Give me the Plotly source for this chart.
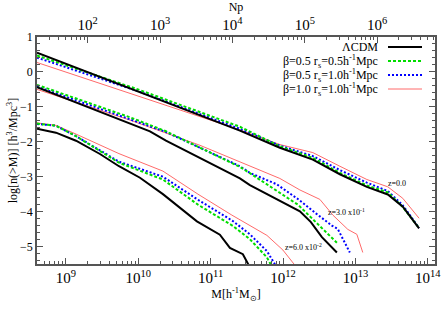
import plotly.graph_objects as go

# ---- data: log10(M) and log10 n(>M) ----
# z = 0.0 group
logM_z0 = [8.60, 9.995, 11.404, 11.956, 12.412, 12.785, 13.158, 13.448, 13.655, 13.88]
z0_lcdm = [0.55, -0.56, -1.68, -2.17, -2.51, -2.93, -3.29, -3.51, -3.86, -4.48]
z0_b05_r05 = [0.47, -0.50, -1.57, -2.13, -2.46, -2.89, -3.25, -3.45, -3.87, -4.47]
z0_b05_r10 = [0.41, -0.55, -1.63, -2.11, -2.41, -2.81, -3.17, -3.41, -3.82, -4.47]
z0_b10_r10 = [0.27, -0.70, -1.66, -2.08, -2.31, -2.70, -3.08, -3.29, -3.62, -4.19]

# z = 0.3 group
logM_z03_lcdm = [8.60, 10.161, 10.382, 11.155, 11.404, 11.542, 11.998, 12.233, 12.385, 12.537, 12.744]
z03_lcdm = [-0.44, -1.70, -1.97, -2.80, -3.05, -3.24, -3.75, -3.99, -4.30, -4.73, -5.17]
logM_z03_b05_r05 = [8.60, 9.885, 10.382, 11.404, 11.542, 11.777, 11.956, 12.205, 12.412, 12.606, 12.744]
z03_b05_r05 = [-0.37, -1.30, -1.70, -2.72, -2.90, -3.22, -3.46, -3.80, -4.22, -4.60, -4.89]
logM_z03_b05_r10 = [8.60, 10.382, 11.404, 11.542, 11.915, 12.205, 12.454, 12.675, 12.757, 12.826, 12.923]
z03_b05_r10 = [-0.42, -1.72, -2.70, -2.89, -3.22, -3.64, -4.05, -4.40, -4.50, -4.77, -5.17]
logM_z03_b10_r10 = [8.60, 9.885, 10.851, 11.542, 11.956, 12.233, 12.509, 12.689, 12.896, 13.020, 13.102]
z03_b10_r10 = [-0.50, -1.38, -2.10, -2.68, -3.05, -3.38, -3.65, -4.10, -4.51, -4.65, -5.17]

# z = 0.06 group
logM_z006_lcdm = [8.60, 8.862, 9.139, 9.470, 9.733, 10.023, 10.340, 10.810, 11.127, 11.266, 11.445, 11.53]
z006_lcdm = [-1.63, -1.74, -1.97, -2.35, -2.70, -3.03, -3.50, -4.28, -4.66, -5.04, -5.22, -5.55]
logM_z006_b05_r05 = [8.60, 8.862, 9.139, 9.733, 10.340, 10.824, 11.307, 11.542, 11.777, 11.84]
z006_b05_r05 = [-1.48, -1.54, -1.84, -2.60, -3.08, -3.80, -4.41, -4.79, -5.31, -5.55]
logM_z006_b05_r10 = [8.60, 8.862, 9.139, 9.733, 10.340, 10.824, 11.307, 11.542, 11.777, 11.90]
z006_b05_r10 = [-1.49, -1.54, -1.84, -2.57, -3.00, -3.66, -4.27, -4.65, -5.13, -5.55]
logM_z006_b10_r10 = [8.60, 8.862, 9.139, 9.733, 10.340, 10.824, 11.293, 11.777, 11.998, 12.17]
z006_b10_r10 = [-1.46, -1.53, -1.78, -2.34, -2.84, -3.50, -4.10, -4.68, -5.10, -5.55]

legend_labels = ["ΛCDM",
                 "β=0.5 r<sub>s</sub>=0.5h<sup>-1</sup>Mpc",
                 "β=0.5 r<sub>s</sub>=1.0h<sup>-1</sup>Mpc",
                 "β=1.0 r<sub>s</sub>=1.0h<sup>-1</sup>Mpc"]
z_labels = ["z=0.0", "z=3.0 x10<sup>-1</sup>", "z=6.0 x10<sup>-2</sup>"]
logNp_offset = 7.3  # log10 particle mass

styles = [
    dict(color="black", width=2, dash="solid"),
    dict(color="#00dd00", width=2, dash="3px,2px"),
    dict(color="#0000ff", width=2, dash="2px,2px"),
    dict(color="#ff6a6a", width=1, dash="solid"),
]

series = [
    (logM_z0, z0_lcdm, 0), (logM_z0, z0_b05_r05, 1), (logM_z0, z0_b05_r10, 2), (logM_z0, z0_b10_r10, 3),
    (logM_z03_lcdm, z03_lcdm, 0), (logM_z03_b05_r05, z03_b05_r05, 1),
    (logM_z03_b05_r10, z03_b05_r10, 2), (logM_z03_b10_r10, z03_b10_r10, 3),
    (logM_z006_lcdm, z006_lcdm, 0), (logM_z006_b05_r05, z006_b05_r05, 1),
    (logM_z006_b05_r10, z006_b05_r10, 2), (logM_z006_b10_r10, z006_b10_r10, 3),
]

fig = go.Figure()
for s in [3, 2, 1, 0]:
    for lm, yv, si in series:
        if si != s:
            continue
        fig.add_trace(go.Scatter(x=[10 ** v for v in lm], y=yv, mode="lines",
                                 line=styles[si], showlegend=False, hoverinfo="skip"))

# dummy trace for top axis
fig.add_trace(go.Scatter(x=[10 ** 2, 10 ** 6], y=[None, None], xaxis="x2", mode="lines",
                         showlegend=False, hoverinfo="skip"))

font_family = "Times New Roman"
axis_color = "#555555"

L, R, T, B = 37, 9, 37, 47
W, H = 444, 311
pw, ph = W - L - R, H - T - B

def px2paper(px, py):
    return (px - L) / pw, (H - B - py) / ph

fig.update_layout(
    width=W, height=H,
    margin=dict(l=L, r=R, t=T, b=B, autoexpand=False),
    paper_bgcolor="white", plot_bgcolor="white",
    font=dict(family=font_family, size=12, color="black"),
    xaxis=dict(type="log", range=[8.6, 14.1], dtick=1, exponentformat="power",
               ticks="inside", ticklen=6, tickcolor=axis_color, tickwidth=1,
               minor=dict(ticks="inside", ticklen=3, tickcolor=axis_color, showgrid=False),
               showline=True, linecolor=axis_color, linewidth=1.5, mirror=False,
               showgrid=False, zeroline=False, automargin=False,
               title=dict(text="M[h<sup>-1</sup>M<sub>⊙</sub>]", standoff=2, font=dict(size=12)),
               tickfont=dict(size=12)),
    xaxis2=dict(type="log", overlaying="x", side="top",
                range=[8.6 - logNp_offset, 14.1 - logNp_offset], dtick=1, exponentformat="power",
                ticks="inside", ticklen=6, tickcolor=axis_color,
                minor=dict(ticks="inside", ticklen=3, tickcolor=axis_color, showgrid=False),
                showline=True, linecolor=axis_color, linewidth=1.5,
                showgrid=False, zeroline=False, automargin=False,
                title=dict(text="Np", standoff=0, font=dict(size=12)),
                tickfont=dict(size=12)),
    yaxis=dict(range=[-5.5, 1.0], dtick=1, tick0=0,
               ticks="inside", ticklen=6, tickcolor=axis_color,
               minor=dict(ticks="inside", ticklen=3, dtick=0.2, tickcolor=axis_color, showgrid=False),
               showline=True, linecolor=axis_color, linewidth=1.5, mirror="ticks",
               showgrid=False, zeroline=False, automargin=False,
               title=dict(text="log[n(>M)] [h<sup>3</sup>/Mpc<sup>3</sup>]", standoff=0, font=dict(size=12)),
               tickfont=dict(size=12)),
)

# legend (text left, line sample right) as annotations + shapes
legend_rows_py = [47, 61, 75, 89]
for lab, py, st in zip(legend_labels, legend_rows_py, styles):
    xt, yt = px2paper(380, py)
    fig.add_annotation(x=xt, y=yt, xref="paper", yref="paper", text=lab, showarrow=False,
                       xanchor="right", yanchor="middle", font=dict(size=12, family=font_family))
    x0, y0 = px2paper(388, py)
    x1, _ = px2paper(422, py)
    fig.add_shape(type="line", xref="paper", yref="paper", x0=x0, x1=x1, y0=y0, y1=y0, line=st)

# redshift labels
for lab, (px, py) in zip(z_labels, [(397, 183), (346, 212), (303, 247)]):
    xt, yt = px2paper(px, py)
    fig.add_annotation(x=xt, y=yt, xref="paper", yref="paper", text=lab, showarrow=False,
                       xanchor="center", yanchor="middle", font=dict(size=8, family=font_family))

fig.write_html("out.html", config={"displayModeBar": False},
               post_script="document.body.style.margin='0';document.body.style.padding='0';")
